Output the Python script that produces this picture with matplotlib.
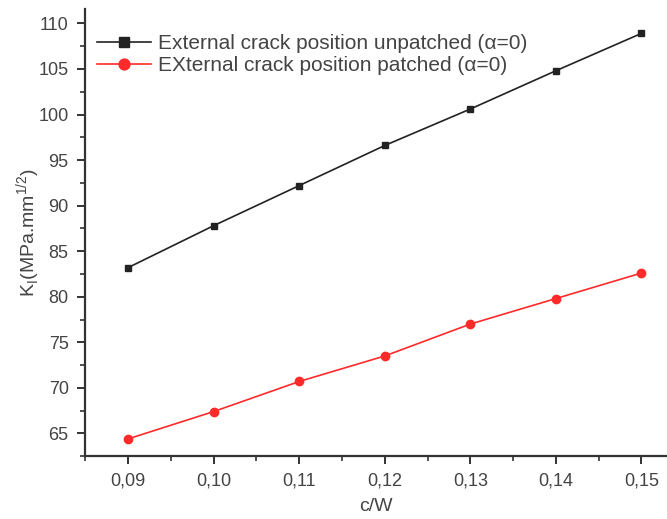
import matplotlib.pyplot as plt
from matplotlib.ticker import MultipleLocator, FuncFormatter

# Data
c_w = [0.09, 0.10, 0.11, 0.12, 0.13, 0.14, 0.15]
k_unpatched = [83.2, 87.8, 92.2, 96.6, 100.6, 104.8, 108.9]
k_patched = [64.4, 67.4, 70.7, 73.5, 77.0, 79.8, 82.6]

plt.rcParams["font.family"] = ["Liberation Sans", "DejaVu Sans"]
text_col = "#444444"

fig = plt.figure(figsize=(6.67, 5.19), dpi=100)
ax = fig.add_axes([0.128, 0.121, 0.872, 0.862])

ax.plot(c_w, k_unpatched, "-s", color="#222222", lw=1.2, ms=5,
        label="External crack position unpatched (\u03b1=0)")
ax.plot(c_w, k_patched, "-o", color="#ff2a2a", lw=1.2, ms=6,
        label="EXternal crack position patched (\u03b1=0)")

ax.set_xlim(0.085, 0.153)
ax.set_ylim(62.5, 111.6)
ax.xaxis.set_major_locator(MultipleLocator(0.01))
ax.xaxis.set_minor_locator(MultipleLocator(0.005))
ax.yaxis.set_major_locator(MultipleLocator(5))
ax.yaxis.set_minor_locator(MultipleLocator(2.5))
ax.xaxis.set_major_formatter(FuncFormatter(lambda v, p: f"{v:.2f}".replace(".", ",")))
ax.yaxis.set_major_formatter(FuncFormatter(lambda v, p: f"{v:.0f}"))

for s in ["top", "right"]:
    ax.spines[s].set_visible(False)
for s in ["left", "bottom"]:
    ax.spines[s].set_linewidth(1.6)
    ax.spines[s].set_color("#333333")

ax.tick_params(which="major", direction="out", length=6, width=1.4,
               colors="#333333", labelcolor=text_col, labelsize=13, pad=6)
ax.tick_params(which="minor", direction="out", length=3.5, width=1.2, colors="#333333")

ax.set_xlabel("c/W", fontsize=14, color=text_col, labelpad=6)
ax.set_ylabel("K$_\\mathregular{I}$(MPa.mm$^\\mathregular{1/2}$)", fontsize=14,
              color=text_col, labelpad=-3)

leg = ax.legend(loc="upper left", bbox_to_anchor=(-0.012, 0.985), frameon=False,
                fontsize=15, handlelength=2.6, labelspacing=0.15, handletextpad=0.3,
                markerscale=1.3)
for t in leg.get_texts():
    t.set_color(text_col)

fig.savefig("out.png", dpi=100)
